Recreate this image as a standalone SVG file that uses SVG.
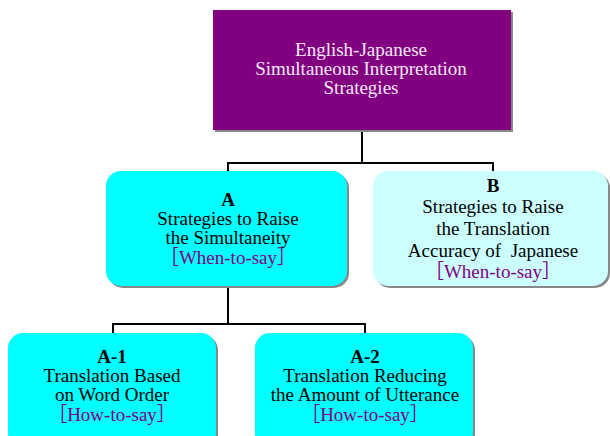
<svg xmlns="http://www.w3.org/2000/svg" width="610" height="436" viewBox="0 0 610 436">
<style>
.shadow{fill:#888888}
.cyan{fill:#00FFFF}
.lcyan{fill:#CCFFFF}
.t{font-family:"Liberation Serif","Times New Roman",serif;font-size:19px;text-anchor:middle;fill:#000}
.b{font-weight:bold}
.w{fill:#F8E8F8}
.p{fill:#800080;font-family:"Liberation Serif","Noto Sans CJK JP",serif}
.conn{stroke:#000;stroke-width:2;fill:none}
</style>
<rect width="610" height="436" fill="#fff"/>
<g id="connectors">
<path class="conn" d="M362,131 V163 M228,171 V163 H493 V171"/>
<path class="conn" d="M228,288 V324 M113,333 V324 H365 V333"/>
</g>
<g id="root">
<rect class="shadow" x="215" y="12" width="298" height="120"/>
<rect x="213" y="10" width="298" height="120" fill="#800080"/>
<text class="t w" x="361" y="56">English-Japanese</text>
<text class="t w" x="361" y="75">Simultaneous Interpretation</text>
<text class="t w" x="361" y="94">Strategies</text>
</g>
<g id="nodeA">
<rect class="shadow" x="108" y="173" width="241" height="115" rx="15"/>
<rect class="cyan" x="106" y="171" width="241" height="115" rx="15"/>
<text class="t b" x="228" y="206">A</text>
<text class="t" x="228" y="225">Strategies to Raise</text>
<text class="t" x="228" y="244">the Simultaneity</text>
<text class="t p" x="228" y="264">［When-to-say］</text>
</g>
<g id="nodeB">
<rect class="shadow" x="375" y="173" width="235" height="115" rx="15"/>
<rect class="lcyan" x="373" y="171" width="235" height="115" rx="15"/>
<text class="t b" x="493" y="192">B</text>
<text class="t" x="493" y="213">Strategies to Raise</text>
<text class="t" x="493" y="235">the Translation</text>
<text class="t" x="493" y="257" xml:space="preserve">Accuracy of  Japanese</text>
<text class="t p" x="493" y="278">［When-to-say］</text>
</g>
<g id="nodeA1">
<rect class="shadow" x="10" y="335" width="208" height="115" rx="15"/>
<rect class="cyan" x="8" y="333" width="208" height="115" rx="15"/>
<text class="t b" x="112" y="363">A-1</text>
<text class="t" x="112" y="382">Translation Based</text>
<text class="t" x="112" y="401">on Word Order</text>
<text class="t p" x="112" y="421">［How-to-say］</text>
</g>
<g id="nodeA2">
<rect class="shadow" x="257" y="335" width="218" height="115" rx="15"/>
<rect class="cyan" x="255" y="333" width="218" height="115" rx="15"/>
<text class="t b" x="365" y="363">A-2</text>
<text class="t" x="365" y="382">Translation Reducing</text>
<text class="t" x="365" y="401">the Amount of Utterance</text>
<text class="t p" x="365" y="421">［How-to-say］</text>
</g>
</svg>
